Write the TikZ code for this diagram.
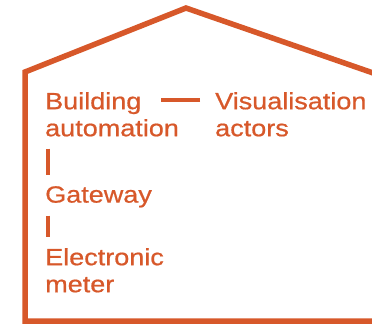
\documentclass[tikz,border=0pt]{standalone}
\usepackage{fontspec}
\setmainfont[FakeStretch=1.15, FakeBold=0.7]{Liberation Sans}
\usepackage{tikz}

\definecolor{houseorange}{RGB}{215,88,42}

\tikzset{
  label/.style={anchor=north west, inner sep=0pt, align=left, text=houseorange,
    font=\fontsize{23.5}{27}\selectfont},
  link/.style={draw=houseorange, line width=3.5pt},
}

\begin{document}
\begin{tikzpicture}[x=1pt, y=-1pt]
\useasboundingbox (0,0) rectangle (372,325);

% house
\draw[houseorange, line width=5.5pt, line join=miter]
(25,321) -- (25,72) -- (186,8) -- (376,74) -- (376,321) -- cycle;

\node[label] (bldg) at (45,92) {Building\\automation};
\node[label] (vis) at (215,92) {Visualisation\\actors};
\node[label] (gate) at (45,186) {Gateway};
\node[label] (meter) at (45,248) {Electronic\\meter};

\draw[link] ([xshift=-15pt]vis.west |- 0,100) -- ++(-39,0) coordinate (hl);
\draw[link] ([xshift=3pt,yshift=-12pt]bldg.south west) -- ([xshift=3pt,yshift=11pt]gate.north west);
\draw[link] ([xshift=3pt,yshift=-8pt]gate.south west) -- ([xshift=3pt,yshift=11pt]meter.north west);

\end{tikzpicture}
\end{document}
